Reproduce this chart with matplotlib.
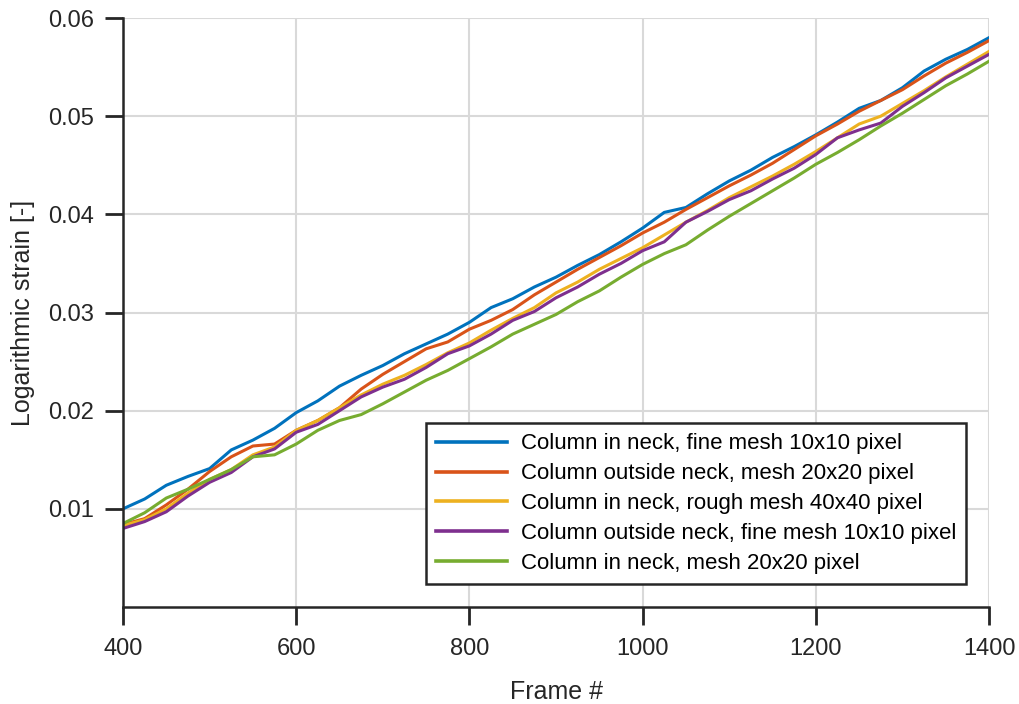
import matplotlib
matplotlib.use("Agg")
import matplotlib.pyplot as plt

plt.rcParams['font.family'] = ['Liberation Sans', 'DejaVu Sans']

frames = list(range(400, 1401, 25))

fine_in_neck = [0.0100, 0.0110, 0.0124, 0.0133, 0.0141, 0.0160, 0.0170, 0.0182, 0.0198, 0.0210,
                0.0225, 0.0236, 0.0246, 0.0258, 0.0268, 0.0278, 0.0290, 0.0305, 0.0314, 0.0326,
                0.0336, 0.0348, 0.0359, 0.0372, 0.0386, 0.0402, 0.0407, 0.0421, 0.0434, 0.0445,
                0.0458, 0.0469, 0.0481, 0.0494, 0.0508, 0.0516, 0.0529, 0.0546, 0.0558, 0.0568,
                0.0580]
mesh20_outside = [0.0084, 0.0090, 0.0104, 0.0120, 0.0138, 0.0153, 0.0164, 0.0166, 0.0180, 0.0190,
                  0.0203, 0.0222, 0.0237, 0.0250, 0.0263, 0.0270, 0.0283, 0.0292, 0.0303, 0.0318,
                  0.0331, 0.0344, 0.0356, 0.0368, 0.0381, 0.0392, 0.0405, 0.0417, 0.0429, 0.0440,
                  0.0452, 0.0466, 0.0480, 0.0492, 0.0505, 0.0516, 0.0527, 0.0541, 0.0554, 0.0565,
                  0.0577]
rough_in_neck = [0.0083, 0.0089, 0.0100, 0.0116, 0.0130, 0.0140, 0.0155, 0.0163, 0.0180, 0.0190,
                 0.0203, 0.0216, 0.0227, 0.0236, 0.0247, 0.0259, 0.0269, 0.0282, 0.0294, 0.0305,
                 0.0320, 0.0331, 0.0344, 0.0355, 0.0366, 0.0379, 0.0392, 0.0404, 0.0417, 0.0428,
                 0.0439, 0.0451, 0.0464, 0.0478, 0.0492, 0.0500, 0.0513, 0.0526, 0.0540, 0.0553,
                 0.0566]
fine_outside = [0.0080, 0.0087, 0.0097, 0.0113, 0.0127, 0.0137, 0.0153, 0.0161, 0.0178, 0.0186,
                0.0200, 0.0214, 0.0224, 0.0232, 0.0244, 0.0258, 0.0266, 0.0278, 0.0292, 0.0301,
                0.0315, 0.0326, 0.0339, 0.0350, 0.0363, 0.0372, 0.0392, 0.0403, 0.0415, 0.0424,
                0.0436, 0.0447, 0.0461, 0.0478, 0.0486, 0.0493, 0.0510, 0.0524, 0.0539, 0.0551,
                0.0563]
mesh20_in_neck = [0.0085, 0.0096, 0.0111, 0.0120, 0.0130, 0.0140, 0.0153, 0.0155, 0.0166, 0.0180,
                  0.0190, 0.0196, 0.0207, 0.0219, 0.0231, 0.0241, 0.0253, 0.0265, 0.0278, 0.0288,
                  0.0298, 0.0311, 0.0322, 0.0336, 0.0349, 0.0360, 0.0369, 0.0384, 0.0398, 0.0411,
                  0.0424, 0.0437, 0.0451, 0.0463, 0.0476, 0.0490, 0.0503, 0.0517, 0.0531, 0.0543,
                  0.0556]

labels = ["Column in neck, fine mesh 10x10 pixel",
          "Column outside neck, mesh 20x20 pixel",
          "Column in neck, rough mesh 40x40 pixel",
          "Column outside neck, fine mesh 10x10 pixel",
          "Column in neck, mesh 20x20 pixel"]
colors = ["#0072BD", "#D95319", "#EDB120", "#7E2F8E", "#77AC30"]
series = [fine_in_neck, mesh20_outside, rough_in_neck, fine_outside, mesh20_in_neck]

fig = plt.figure(figsize=(10.19, 7.04), dpi=100)
ax = fig.add_axes([0.1207, 0.1378, 0.8499, 0.8366])

for vals, lab, col in zip(series, labels, colors):
    ax.plot(frames, vals, color=col, lw=2.2, label=lab)

ax.set_xlim(400, 1400)
ax.set_ylim(0, 0.06)
ax.set_xticks(range(400, 1401, 200))
ax.set_yticks([0.01, 0.02, 0.03, 0.04, 0.05, 0.06])
ax.set_yticklabels(["0.01", "0.02", "0.03", "0.04", "0.05", "0.06"])
ax.grid(True, color="#d9d9d9", lw=1.5)
ax.set_axisbelow(True)
for s in ["top", "right"]:
    ax.spines[s].set_visible(False)
for s in ["left", "bottom"]:
    ax.spines[s].set_linewidth(1.8)
    ax.spines[s].set_color("#262626")
ax.tick_params(direction="out", length=13, width=2, labelsize=17, colors="#262626")
ax.tick_params(axis="x", pad=9)
ax.tick_params(axis="y", pad=8)
ax.set_xlabel("Frame #", fontsize=18, color="#262626", labelpad=15)
ax.set_ylabel("Logarithmic strain [-]", fontsize=18, color="#262626", labelpad=9)

leg = ax.legend(loc="lower right", bbox_to_anchor=(0.9734, 0.039), fontsize=16,
                handlelength=3.2, handletextpad=0.6, fancybox=False, framealpha=1,
                edgecolor="#262626", borderaxespad=0, labelspacing=0.4, borderpad=0.45)
leg.get_frame().set_linewidth(1.8)
for line in leg.get_lines():
    line.set_linewidth(2.6)

fig.savefig("out.png", dpi=100)
